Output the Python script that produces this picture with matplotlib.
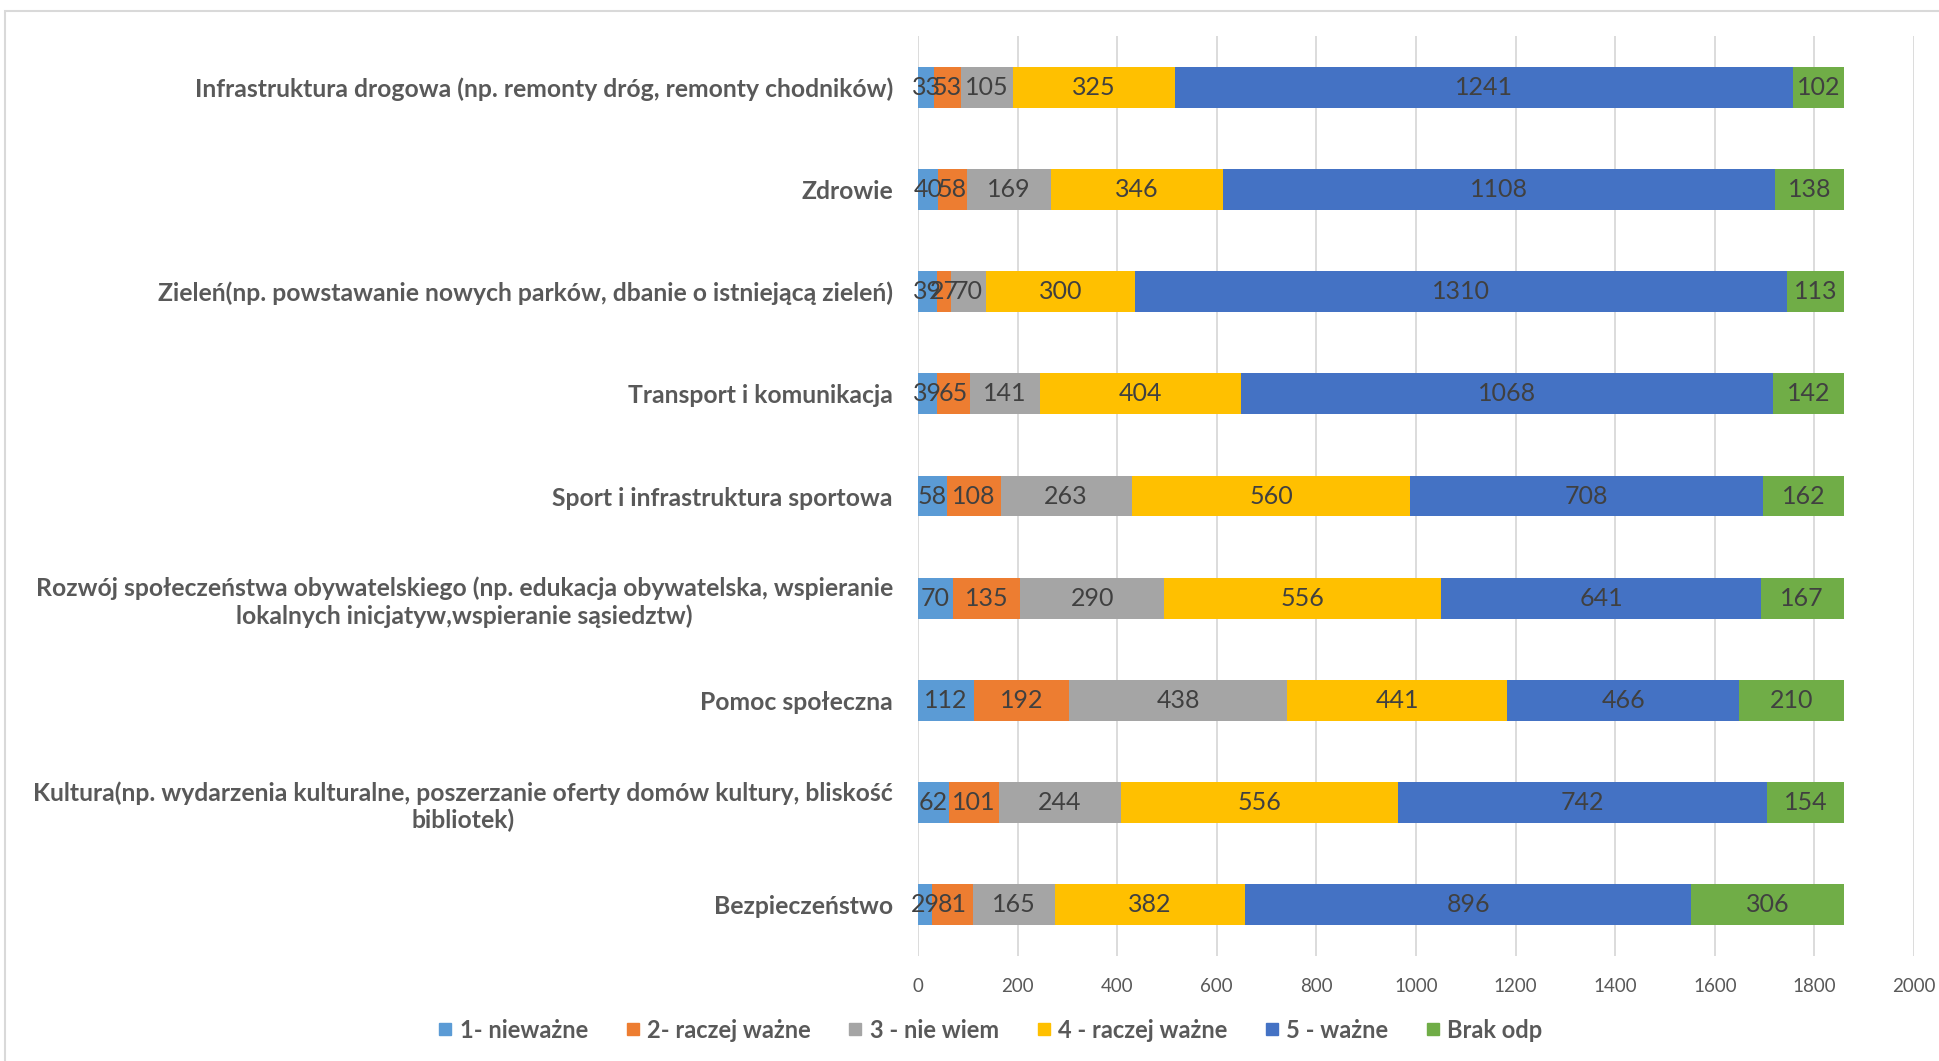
import matplotlib.pyplot as plt
from matplotlib.patches import Rectangle
from matplotlib.lines import Line2D

plt.rcParams['font.family'] = ['Lato', 'DejaVu Sans']

# kategorie (od gory do dolu)
kategorie = [
    "Infrastruktura drogowa (np. remonty dróg, remonty chodników)",
    "Zdrowie",
    "Zieleń(np. powstawanie nowych parków, dbanie o istniejącą zieleń)",
    "Transport i komunikacja",
    "Sport i infrastruktura sportowa",
    "Rozwój społeczeństwa obywatelskiego (np. edukacja obywatelska, wspieranie\nlokalnych inicjatyw,wspieranie sąsiedztw)",
    "Pomoc społeczna",
    "Kultura(np. wydarzenia kulturalne, poszerzanie oferty domów kultury, bliskość\nbibliotek)",
    "Bezpieczeństwo",
]

serie = ["1- nieważne", "2- raczej ważne", "3 - nie wiem", "4 - raczej ważne", "5 - ważne", "Brak odp"]

niewazne = [33, 40, 39, 39, 58, 70, 112, 62, 29]
raczej_wazne2 = [53, 58, 27, 65, 108, 135, 192, 101, 81]
nie_wiem = [105, 169, 70, 141, 263, 290, 438, 244, 165]
raczej_wazne4 = [325, 346, 300, 404, 560, 556, 441, 556, 382]
wazne = [1241, 1108, 1310, 1068, 708, 641, 466, 742, 896]
brak_odp = [102, 138, 113, 142, 162, 167, 210, 154, 306]

kolory = ["#5B9BD5", "#ED7D31", "#A5A5A5", "#FFC000", "#4472C4", "#70AD47"]
szary = "#595959"

fig = plt.figure(figsize=(19.39, 10.61), dpi=100)
ax = fig.add_axes([0.4734, 0.099, 0.5137, 0.867])

y = list(range(len(kategorie)))
left = [0] * len(kategorie)
dane = [niewazne, raczej_wazne2, nie_wiem, raczej_wazne4, wazne, brak_odp]
for wart, kol, nazwa in zip(dane, kolory, serie):
    bars = ax.barh(y, wart, left=left, height=0.4, color=kol, label=nazwa, zorder=3)
    for b, v in zip(bars, wart):
        ax.text(b.get_x() + b.get_width() / 2, b.get_y() + b.get_height() / 2, str(v),
                ha="center", va="center", fontsize=18, color="#404040", zorder=4)
    left = [l + v for l, v in zip(left, wart)]

ax.set_xlim(0, 2000)
ax.set_ylim(8.5, -0.5)
ax.set_xticks(range(0, 2001, 200))
ax.set_yticks(y)
ax.set_yticklabels(kategorie, fontsize=17.8, fontweight="bold", color=szary,
                   multialignment="center")
ax.tick_params(axis="x", labelsize=13.5, colors=szary, length=0, pad=16)
ax.tick_params(axis="y", length=0, pad=18)
ax.grid(axis="x", color="#D9D9D9", linewidth=1.3, zorder=0)
for s in ax.spines.values():
    s.set_visible(False)

# legenda
uchwyty = [Line2D([], [], marker="s", linestyle="", markersize=9, color=k) for k in kolory]
leg = fig.legend(uchwyty, serie, loc="center", bbox_to_anchor=(0.509, 0.029), ncol=6,
                 frameon=False, fontsize=17, labelcolor=szary, handletextpad=0.0,
                 columnspacing=1.3, handlelength=1.2)
for t in leg.get_texts():
    t.set_fontweight("bold")

# ramka wykresu
fig.patches.append(Rectangle((0.0026, -0.05), 1.05, 1.0396, transform=fig.transFigure,
                             fill=False, edgecolor="#D9D9D9", linewidth=1.5))

plt.savefig("out.png", dpi=100)
